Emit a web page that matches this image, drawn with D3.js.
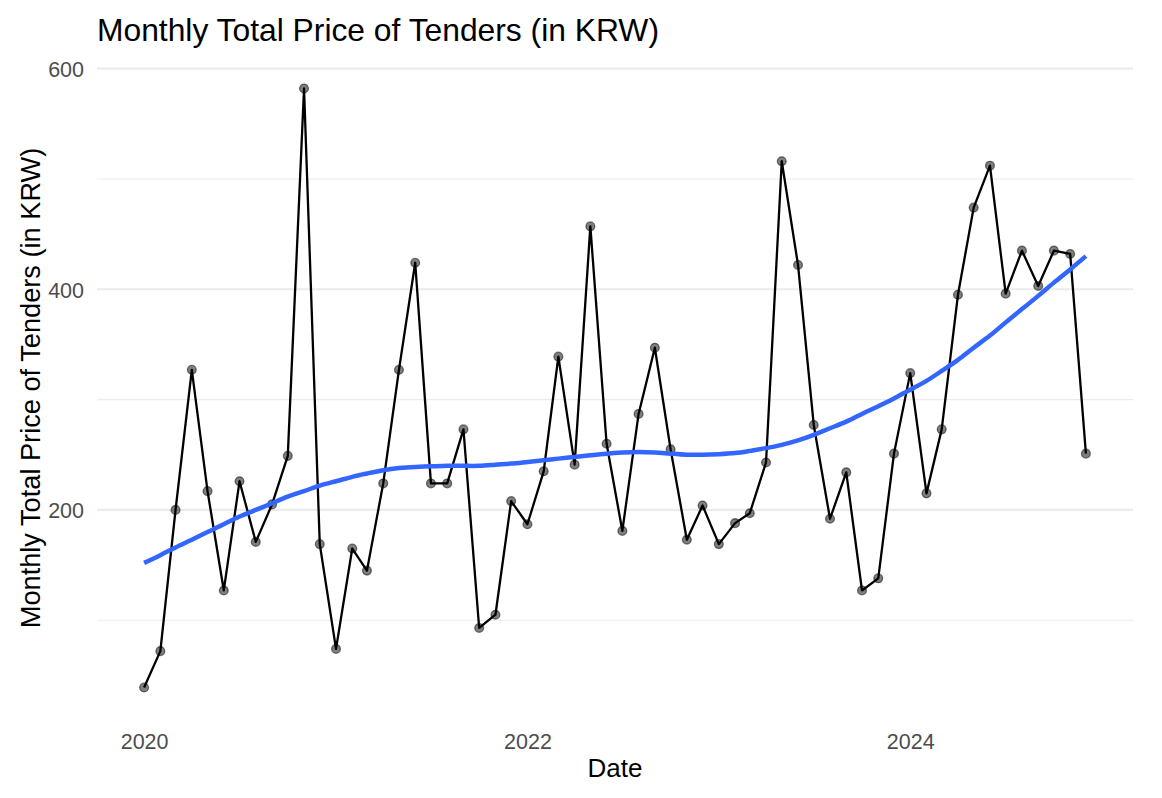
<!DOCTYPE html>
<html>
<head>
<meta charset="utf-8">
<script src="https://cdn.jsdelivr.net/npm/d3@7/dist/d3.min.js"></script>
<style>
  html, body { margin: 0; padding: 0; background: #fff; }
  svg { display: block; font-family: "Liberation Sans", Arial, Helvetica, sans-serif; }
</style>
</head>
<body>
<svg id="chart" width="1162" height="798"></svg>
<script>
// ---- Data ----
const months = [
  "2020-01","2020-02","2020-03","2020-04","2020-05","2020-06","2020-07","2020-08","2020-09","2020-10","2020-11","2020-12",
  "2021-01","2021-02","2021-03","2021-04","2021-05","2021-06","2021-07","2021-08","2021-09","2021-10","2021-11","2021-12",
  "2022-01","2022-02","2022-03","2022-04","2022-05","2022-06","2022-07","2022-08","2022-09","2022-10","2022-11","2022-12",
  "2023-01","2023-02","2023-03","2023-04","2023-05","2023-06","2023-07","2023-08","2023-09","2023-10","2023-11","2023-12",
  "2024-01","2024-02","2024-03","2024-04","2024-05","2024-06","2024-07","2024-08","2024-09","2024-10","2024-11","2024-12"
];
const totalPrice = [
  39, 72, 200, 327, 217, 127, 226, 171, 205, 249, 582, 169,
  74, 165, 145, 224, 327, 424, 224, 224, 273, 93, 105, 208,
  187, 235, 339, 241, 457, 260, 181, 287, 347, 255, 173, 204,
  169, 188, 197, 243, 516, 422, 277, 192, 234, 127, 138, 251,
  324, 215, 273, 395, 474, 512, 396, 435, 403, 435, 432, 251
];
// smoothed trend (loess)
const smoothPrice = [
  152, 159, 166, 173, 180, 187, 194, 200, 206, 212, 217, 222,
  226, 230, 233, 236, 238, 239, 239.5, 240, 240, 240, 241, 242,
  243.5, 245, 246.5, 248, 249.5, 251, 252, 252.5, 252, 251, 250, 250,
  250.5, 251.5, 253.5, 256, 259, 263, 268, 274, 280, 287, 294, 301,
  309, 317, 326, 336, 347, 358, 370, 382, 394, 406, 418, 430
];
const yMajorTicks = [200, 400, 600];
const yMinorTicks = [100, 300, 500];
const xTickYears = ["2020-01-01", "2022-01-01", "2024-01-01"];
const titleText = "Monthly Total Price of Tenders (in KRW)";
const xTitle = "Date";
const yTitle = "Monthly Total Price of Tenders (in KRW)";

// ---- Build ----
const parseMonth = d3.utcParse("%Y-%m");
const parseDay = d3.utcParse("%Y-%m-%d");
const data = months.map((m, i) => ({ date: parseMonth(m), value: totalPrice[i], smooth: smoothPrice[i] }));

const panel = { left: 97, right: 1133, top: 58.5, bottom: 717.5 };

const xExt = d3.extent(data, d => +d.date);
const xPad = (xExt[1] - xExt[0]) * 0.05;
const x = d3.scaleUtc()
  .domain([new Date(xExt[0] - xPad), new Date(xExt[1] + xPad)])
  .range([panel.left, panel.right]);

const allY = totalPrice.concat(smoothPrice);
const yExt = d3.extent(allY);
const yPad = (yExt[1] - yExt[0]) * 0.05;
const y = d3.scaleLinear()
  .domain([yExt[0] - yPad, yExt[1] + yPad])
  .range([panel.bottom, panel.top]);

const svg = d3.select("#chart");

// grid
const grid = svg.append("g");
grid.selectAll("line.minor").data(yMinorTicks).join("line")
  .attr("class", "minor")
  .attr("x1", panel.left).attr("x2", panel.right)
  .attr("y1", d => y(d)).attr("y2", d => y(d))
  .attr("stroke", "#EBEBEB").attr("stroke-width", 1.1);
grid.selectAll("line.major").data(yMajorTicks).join("line")
  .attr("class", "major")
  .attr("x1", panel.left).attr("x2", panel.right)
  .attr("y1", d => y(d)).attr("y2", d => y(d))
  .attr("stroke", "#EBEBEB").attr("stroke-width", 2.2);

// axes (labels only, ggplot minimal style)
const yAxis = d3.axisLeft(y).tickValues(yMajorTicks).tickSize(0).tickPadding(0).tickFormat(d3.format("d"));
const yg = svg.append("g").attr("transform", `translate(${panel.left - 13},0)`).call(yAxis);
yg.select(".domain").remove();
yg.selectAll("text").attr("fill", "#4D4D4D").style("font-size", "21.5px")
  .attr("dy", "0.36em").attr("x", 0);

const xAxis = d3.axisBottom(x).tickValues(xTickYears.map(parseDay)).tickSize(0).tickPadding(0).tickFormat(d3.utcFormat("%Y"));
const xg = svg.append("g").attr("transform", `translate(0,${panel.bottom})`).call(xAxis);
xg.select(".domain").remove();
xg.selectAll("text").attr("fill", "#4D4D4D").style("font-size", "21.5px")
  .attr("dy", null).attr("y", 31.5);

// data line
const line = d3.line().x(d => x(d.date)).y(d => y(d.value));
svg.append("path").datum(data)
  .attr("d", line).attr("fill", "none")
  .attr("stroke", "#000").attr("stroke-width", 2.3).attr("stroke-linejoin", "round");

// points
svg.append("g").selectAll("circle").data(data).join("circle")
  .attr("cx", d => x(d.date)).attr("cy", d => y(d.value)).attr("r", 4.4)
  .attr("fill", "rgba(0,0,0,0.5)")
  .attr("stroke", "rgba(0,0,0,0.5)").attr("stroke-width", 1.3);

// smooth
const smoothLine = d3.line().x(d => x(d.date)).y(d => y(d.smooth)).curve(d3.curveNatural);
svg.append("path").datum(data)
  .attr("d", smoothLine).attr("fill", "none")
  .attr("stroke", "#3366FF").attr("stroke-width", 4.5).attr("stroke-linecap", "butt");

// titles
svg.append("text").attr("x", panel.left).attr("y", 41)
  .style("font-size", "31.8px").attr("fill", "#000").text(titleText);
svg.append("text").attr("x", (panel.left + panel.right) / 2).attr("y", 777)
  .attr("text-anchor", "middle").style("font-size", "26px").attr("fill", "#000").text(xTitle);
svg.append("text")
  .attr("transform", `translate(40,${(panel.top + panel.bottom) / 2}) rotate(-90)`)
  .attr("text-anchor", "middle").style("font-size", "27.2px").attr("fill", "#000").text(yTitle);
</script>
</body>
</html>
